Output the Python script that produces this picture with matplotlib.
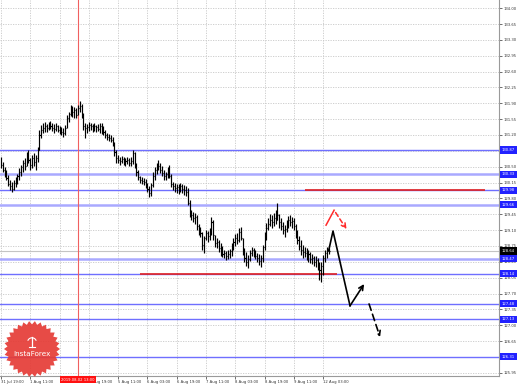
import numpy as np
import matplotlib
matplotlib.use("Agg")
import matplotlib.pyplot as plt
from matplotlib.transforms import blended_transform_factory

# ---------------- data ----------------
highs = [130.71,130.60,130.49,130.43,130.32,130.21,130.16,130.21,130.27,130.34,
         130.47,130.54,130.65,130.69,130.82,130.87,130.69,130.76,130.80,130.76,
         130.93,131.31,131.42,131.46,131.49,131.44,131.49,131.51,131.46,131.44,
         131.46,131.42,131.40,131.38,131.35,131.42,131.64,131.71,131.86,131.84,
         131.82,131.80,131.86,131.95,131.88,131.68,131.46,131.44,131.49,131.46,
         131.44,131.46,131.42,131.44,131.46,131.46,131.40,131.31,131.24,131.22,
         131.20,131.16,131.05,130.87,130.76,130.71,130.74,130.71,130.69,130.71,
         130.69,130.71,130.87,130.82,130.58,130.43,130.30,130.27,130.25,130.23,
         130.14,130.08,130.14,130.38,130.49,130.58,130.65,130.58,130.51,130.43,
         130.38,130.49,130.54,130.34,130.16,130.14,130.12,130.12,130.14,130.12,
         130.10,130.08,130.03,129.77,129.55,129.51,129.48,129.44,129.24,129.17,
         129.06,128.97,129.10,129.08,129.15,129.40,129.33,128.99,128.93,128.88,
         128.82,128.75,128.66,128.64,128.66,128.68,128.82,128.93,129.02,129.04,
         129.15,129.17,128.93,128.71,128.62,128.55,128.66,128.73,128.71,128.66,
         128.60,128.57,128.55,128.77,129.06,129.26,129.37,129.46,129.44,129.48,
         129.55,129.70,129.46,129.37,129.28,129.21,129.33,129.42,129.44,129.40,
         129.37,129.24,129.10,128.97,128.88,128.77,128.73,128.71,128.66,128.62,
         128.57,128.53,128.53,128.49,128.40,128.40,128.55,128.66,128.73,128.71]
lows = [130.47,130.38,130.27,130.21,130.08,129.99,129.94,129.99,130.05,130.12,
        130.21,130.30,130.38,130.43,130.51,130.58,130.43,130.47,130.51,130.43,
        130.60,130.87,131.13,131.24,131.27,131.27,131.31,131.33,131.29,131.24,
        131.29,131.27,131.22,131.20,131.16,131.20,131.35,131.49,131.62,131.60,
        131.58,131.58,131.64,131.71,131.58,131.31,131.13,131.24,131.29,131.31,
        131.27,131.29,131.27,131.29,131.24,131.22,131.20,131.13,131.09,131.07,
        131.05,130.96,130.74,130.58,130.58,130.54,130.58,130.54,130.51,130.56,
        130.51,130.51,130.56,130.47,130.30,130.21,130.14,130.12,130.10,130.03,
        129.94,129.83,129.85,130.05,130.21,130.34,130.43,130.36,130.30,130.21,
        130.21,130.25,130.25,130.05,129.99,129.94,129.92,129.90,129.94,129.92,
        129.88,129.85,129.66,129.40,129.33,129.29,129.24,129.11,128.99,128.95,
        128.66,128.60,128.88,128.84,128.88,128.99,128.88,128.73,128.71,128.62,
        128.53,128.51,128.49,128.44,128.46,128.49,128.53,128.66,128.75,128.79,
        128.84,128.88,128.55,128.40,128.31,128.27,128.42,128.53,128.51,128.46,
        128.40,128.33,128.29,128.40,128.66,128.88,129.10,129.19,129.15,129.19,
        129.24,129.33,129.15,129.10,129.02,128.95,129.06,129.15,129.19,129.15,
        129.10,128.93,128.79,128.66,128.55,128.49,128.51,128.44,128.40,128.38,
        128.35,128.31,128.29,128.22,128.00,127.96,128.11,128.40,128.49,128.57]
closes = [130.54,130.43,130.34,130.25,130.12,130.08,130.01,130.14,130.21,130.30,
          130.38,130.49,130.58,130.51,130.76,130.65,130.54,130.69,130.60,130.69,
          130.87,131.20,131.31,131.35,131.40,131.35,131.42,131.40,131.35,131.33,
          131.40,131.31,131.35,131.27,131.24,131.35,131.58,131.66,131.80,131.71,
          131.75,131.64,131.80,131.84,131.64,131.40,131.35,131.38,131.42,131.40,
          131.33,131.40,131.38,131.33,131.40,131.31,131.27,131.20,131.16,131.13,
          131.09,131.02,130.83,130.69,130.65,130.62,130.67,130.60,130.62,130.65,
          130.58,130.62,130.80,130.54,130.38,130.27,130.21,130.19,130.16,130.08,
          130.01,129.92,130.10,130.30,130.43,130.47,130.51,130.43,130.36,130.30,
          130.34,130.43,130.30,130.12,130.08,130.03,130.05,129.99,130.08,130.01,
          129.99,129.94,129.70,129.48,129.44,129.37,129.40,129.19,129.10,129.04,
          128.77,128.93,129.04,128.97,129.06,129.28,128.99,128.82,128.84,128.71,
          128.66,128.57,128.60,128.53,128.57,128.64,128.75,128.84,128.93,128.88,
          129.06,128.93,128.62,128.49,128.40,128.46,128.60,128.66,128.57,128.53,
          128.49,128.42,128.49,128.73,128.97,129.15,129.24,129.33,129.28,129.37,
          129.33,129.44,129.28,129.19,129.10,129.13,129.24,129.33,129.28,129.30,
          129.19,129.02,128.88,128.75,128.66,128.62,128.60,128.53,128.57,128.46,
          128.49,128.40,128.44,128.33,128.22,128.31,128.49,128.60,128.66,128.64]

date_labels = ["31 Jul 19:00", "1 Aug 11:00", "", "2 Aug 19:00",
               "5 Aug 11:00", "6 Aug 03:00", "6 Aug 19:00", "7 Aug 11:00",
               "8 Aug 03:00", "8 Aug 19:00", "9 Aug 11:00", "12 Aug 03:00"]
date_tick_idx = [0, 16, 32, 48, 64, 80, 96, 112, 128, 144, 160, 176]

price_ticks = [134.00,133.65,133.30,132.95,132.60,132.25,131.90,131.55,131.20,
               130.85,130.50,130.15,129.80,129.45,129.10,128.75,128.40,128.05,
               127.70,127.35,127.00,126.65,126.30,125.95]
# tick labels hidden behind the level boxes in the reference
hidden_price_labels = [130.85, 126.30]

level_strong = [130.87, 129.98, 128.14, 127.48, 127.13, 126.31]
level_light = [130.33, 129.66, 128.47]
current_price = 128.64

red_upper = 129.98
red_upper_span = [166, 264.5]
red_lower = 128.14
red_lower_span = [76, 183.6]

cross_idx = 42
cross_label = "2019.08.02 13:00"

# forecast paths (bar index, price)
black_x = [179, 181.4, 190.7, 198.4]
black_y = [128.64, 129.08, 127.43, 127.91]
black2_x = [201.1, 207.1]
black2_y = [127.47, 126.74]
red_x = [177.6, 182.0, 188.8]
red_y = [129.21, 129.54, 129.12]

# ---------------- figure ----------------
W, H = 518, 384
fig = plt.figure(figsize=(W / 100, H / 100), dpi=100)
fig.patch.set_facecolor("white")
ax = fig.add_axes([0, 8 / H, 499 / W, 376 / H])
ax.set_facecolor("white")

ax.set_xlim(-0.546, 272.1)
ax.set_ylim(125.88, 134.18)

# grid
for t in date_tick_idx:
    ax.axvline(t, color="#c8c8c8", lw=0.6, ls=(0, (1.5, 1.5)), zorder=0)
for p in price_ticks:
    ax.axhline(p, color="#c8c8c8", lw=0.6, ls=(0, (1.5, 1.5)), zorder=0)

# levels
for lv in level_light:
    ax.axhline(lv, color="#a9a9ff", lw=1.8, zorder=1)
for lv in level_strong:
    ax.axhline(lv, color="#6f6fff", lw=1.0, zorder=1)
ax.axhline(current_price, color="#c4c4c4", lw=0.8, zorder=1)
ax.hlines(red_upper, *red_upper_span, color="#e02020", lw=1.2, zorder=2)
ax.hlines(red_lower, *red_lower_span, color="#e02020", lw=1.2, zorder=2)

# crosshair
ax.axvline(cross_idx, color="#f06060", lw=0.8, zorder=2)

# OHLC bars
idx = np.arange(len(closes))
ax.vlines(idx, lows, highs, color="black", lw=0.85, zorder=3)
ax.hlines(closes, idx, idx + 0.6, color="black", lw=0.85, zorder=3)

# forecast arrows
ax.plot(black_x[:-1], black_y[:-1], color="black", lw=1.2, zorder=4)
ax.annotate("", xy=(black_x[-1], black_y[-1]), xytext=(black_x[-2], black_y[-2]),
            arrowprops=dict(arrowstyle="->", color="black", lw=1.2,
                            shrinkA=0, shrinkB=0, mutation_scale=8), zorder=4)
ax.annotate("", xy=(black2_x[-1], black2_y[-1]), xytext=(black2_x[0], black2_y[0]),
            arrowprops=dict(arrowstyle="->", color="black", lw=1.2, ls=(0, (4, 2.5)),
                            shrinkA=0, shrinkB=0, mutation_scale=8), zorder=4)
ax.plot(red_x[:-1], red_y[:-1], color="#ff2a2a", lw=1.1, zorder=4)
ax.annotate("", xy=(red_x[-1], red_y[-1]), xytext=(red_x[-2], red_y[-2]),
            arrowprops=dict(arrowstyle="->", color="#ff2a2a", lw=1.1, ls=(0, (3, 2)),
                            shrinkA=2, shrinkB=0, mutation_scale=8), zorder=4)

# axes styling
for s in ["top", "left"]:
    ax.spines[s].set_visible(False)
ax.spines["right"].set_color("#9a9a9a")
ax.spines["bottom"].set_color("#9a9a9a")
ax.spines["right"].set_linewidth(0.8)
ax.spines["bottom"].set_linewidth(0.8)

ax.yaxis.tick_right()
ax.set_yticks(price_ticks)
ax.set_yticklabels(["" if p in hidden_price_labels else f"{p:.2f}"
                    for p in price_ticks])
ax.tick_params(axis="y", length=2, width=0.5, pad=1.5, labelsize=2.7,
               colors="#333333")
ax.set_xticks(date_tick_idx)
ax.set_xticklabels(date_labels, ha="left")
ax.tick_params(axis="x", length=2, width=0.5, pad=1, labelsize=2.7,
               colors="#333333")

# right-side price boxes
tr = blended_transform_factory(ax.transAxes, ax.transData)
for lv in level_strong + level_light:
    ax.text(1.006, lv, f"{lv:.2f}", transform=tr, fontsize=2.7, color="white",
            ha="left", va="center", zorder=6, clip_on=False,
            bbox=dict(boxstyle="square,pad=0.45", fc="#2222ff", ec="none"))
ax.text(1.006, current_price, f"{current_price:.2f}", transform=tr, fontsize=2.7,
        color="white", ha="left", va="center", zorder=7, clip_on=False,
        bbox=dict(boxstyle="square,pad=0.45", fc="black", ec="none"))

# crosshair time label
trx = blended_transform_factory(ax.transData, fig.transFigure)
ax.text(cross_idx, 4.2 / H, cross_label, transform=trx, fontsize=2.7,
        color="white", ha="center", va="center", zorder=8, clip_on=False,
        bbox=dict(boxstyle="square,pad=0.4", fc="#ff1010", ec="none"))

# InstaForex logo
lax = fig.add_axes([4 / W, 7 / H, 56 / W, 56 / H])
lax.set_xlim(-1, 1)
lax.set_ylim(-1, 1)
lax.axis("off")
nt = 30
ang = np.linspace(0, 2 * np.pi, 2 * nt, endpoint=False)
rad = np.where(np.arange(2 * nt) % 2 == 0, 1.0, 0.88)
lax.fill(rad * np.cos(ang), rad * np.sin(ang), color="#e53b36", alpha=0.92, lw=0)
th = np.linspace(0.15 * np.pi, 0.85 * np.pi, 30)
lax.plot(0.16 * np.cos(th), 0.24 + 0.16 * np.sin(th), color="white", lw=0.8)
lax.plot([0, 0], [0.08, 0.44], color="white", lw=0.9)
lax.plot([-0.09, 0.09], [0.08, 0.08], color="white", lw=0.8)
lax.text(0, -0.18, "InstaForex", color="white", fontsize=5.2,
         ha="center", va="center")

fig.savefig("out.png", dpi=100)
